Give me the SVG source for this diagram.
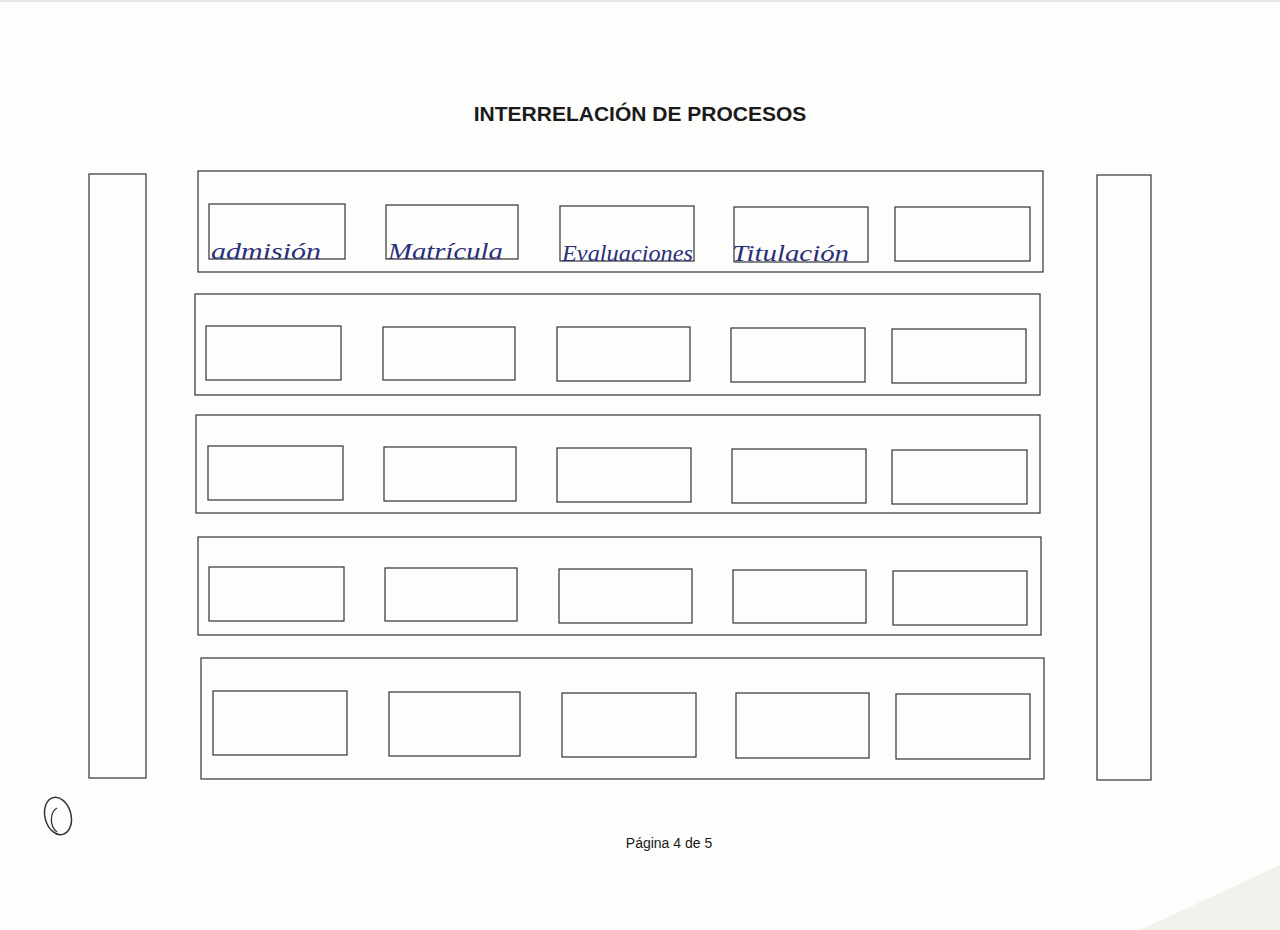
<svg xmlns="http://www.w3.org/2000/svg" width="1280" height="930" viewBox="0 0 1280 930">
<style>
.b{fill:none;stroke:#333;stroke-width:1.2}
.t{font-family:"Liberation Sans",Arial,sans-serif;fill:#1a1a1a}
.h{font-family:"Liberation Serif","DejaVu Serif",serif;font-style:italic;fill:#2a2f7a;font-size:24px}
</style>
<rect width="1280" height="930" fill="#fdfdfc"/>
<polygon points="1140,930 1280,865 1280,930" fill="#f1f1ee"/>
<line x1="0" y1="1" x2="1280" y2="1" stroke="#e6e6e6" stroke-width="2"/>
<text class="t" x="640" y="121" text-anchor="middle" font-size="21" font-weight="bold">INTERRELACIÓN DE PROCESOS</text>

<g id="left-bar"><rect class="b" x="89" y="174" width="57" height="604"/></g>
<g id="right-bar"><rect class="b" x="1097" y="175" width="54" height="605"/></g>

<g id="row1">
<rect class="b" x="198" y="171" width="845" height="101"/>
<g id="n-admision"><rect class="b" x="209" y="204" width="136" height="55"/><text class="h" x="211" y="259" textLength="110" lengthAdjust="spacingAndGlyphs">admisión</text></g>
<g id="n-matricula"><rect class="b" x="386" y="205" width="132" height="54"/><text class="h" x="388" y="259" textLength="115" lengthAdjust="spacingAndGlyphs">Matrícula</text></g>
<g id="n-evaluaciones"><rect class="b" x="560" y="206" width="134" height="55"/><text class="h" x="562" y="261" textLength="131" lengthAdjust="spacingAndGlyphs">Evaluaciones</text></g>
<g id="n-titulacion"><rect class="b" x="734" y="207" width="134" height="55"/><text class="h" x="732" y="261" textLength="117" lengthAdjust="spacingAndGlyphs">Titulación</text></g>
<g id="n-r1c5"><rect class="b" x="895" y="207" width="135" height="54"/></g>
</g>

<g id="row2">
<rect class="b" x="195" y="294" width="845" height="101"/>
<g id="n-r2c1"><rect class="b" x="206" y="326" width="135" height="54"/></g>
<g id="n-r2c2"><rect class="b" x="383" y="327" width="132" height="53"/></g>
<g id="n-r2c3"><rect class="b" x="557" y="327" width="133" height="54"/></g>
<g id="n-r2c4"><rect class="b" x="731" y="328" width="134" height="54"/></g>
<g id="n-r2c5"><rect class="b" x="892" y="329" width="134" height="54"/></g>
</g>

<g id="row3">
<rect class="b" x="196" y="415" width="844" height="98"/>
<g id="n-r3c1"><rect class="b" x="208" y="446" width="135" height="54"/></g>
<g id="n-r3c2"><rect class="b" x="384" y="447" width="132" height="54"/></g>
<g id="n-r3c3"><rect class="b" x="557" y="448" width="134" height="54"/></g>
<g id="n-r3c4"><rect class="b" x="732" y="449" width="134" height="54"/></g>
<g id="n-r3c5"><rect class="b" x="892" y="450" width="135" height="54"/></g>
</g>

<g id="row4">
<rect class="b" x="198" y="537" width="843" height="98"/>
<g id="n-r4c1"><rect class="b" x="209" y="567" width="135" height="54"/></g>
<g id="n-r4c2"><rect class="b" x="385" y="568" width="132" height="53"/></g>
<g id="n-r4c3"><rect class="b" x="559" y="569" width="133" height="54"/></g>
<g id="n-r4c4"><rect class="b" x="733" y="570" width="133" height="53"/></g>
<g id="n-r4c5"><rect class="b" x="893" y="571" width="134" height="54"/></g>
</g>

<g id="row5">
<rect class="b" x="201" y="658" width="843" height="121"/>
<g id="n-r5c1"><rect class="b" x="213" y="691" width="134" height="64"/></g>
<g id="n-r5c2"><rect class="b" x="389" y="692" width="131" height="64"/></g>
<g id="n-r5c3"><rect class="b" x="562" y="693" width="134" height="64"/></g>
<g id="n-r5c4"><rect class="b" x="736" y="693" width="133" height="65"/></g>
<g id="n-r5c5"><rect class="b" x="896" y="694" width="134" height="65"/></g>
</g>

<g id="connectors"></g>

<g id="mark">
<ellipse cx="58" cy="816" rx="13" ry="19" transform="rotate(-15 58 816)" fill="none" stroke="#333" stroke-width="1.5"/>
<path d="M57,808 C50,812 49,826 57,832" fill="none" stroke="#333" stroke-width="1.3"/>
</g>

<text class="t" x="669" y="848" text-anchor="middle" font-size="14">Página 4 de 5</text>
</svg>
